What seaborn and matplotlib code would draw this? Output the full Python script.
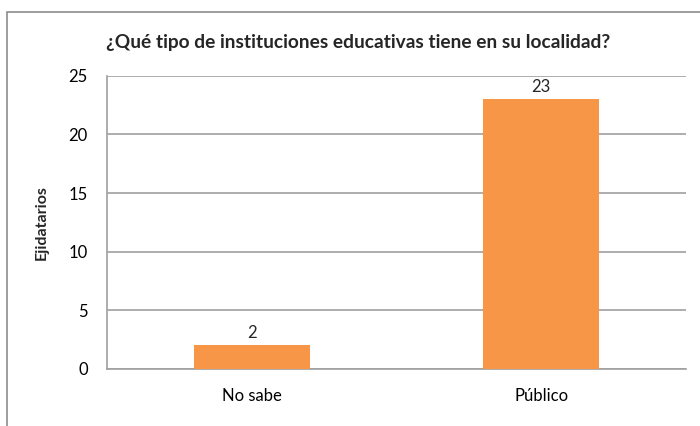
import matplotlib
matplotlib.use("Agg")
import matplotlib.pyplot as plt
import seaborn as sns
import pandas as pd
from matplotlib.patches import Rectangle

### DATA ###
categories = ["No sabe", "Público"]
counts = [2, 23]
yticks = [0, 5, 10, 15, 20, 25]

df = pd.DataFrame({"categoria": categories, "ejidatarios": counts})

### STYLE ###
sns.set_style("white")
plt.rcParams["font.family"] = ["Lato", "DejaVu Sans"]

fig = plt.figure(figsize=(7, 4.26), dpi=100)
ax = fig.add_axes([0.153, 0.134, 0.827, 0.688])

# Outer chart frame (Excel style)
fig.patches.append(Rectangle((0.01, -0.05), 1.0, 1.022, transform=fig.transFigure,
                             fill=False, edgecolor="#8c8c8c", linewidth=1.2))

sns.barplot(data=df, x="categoria", y="ejidatarios", color="#F79646",
            width=0.4, saturation=1, linewidth=0, ax=ax, zorder=3)

ax.set_ylim(0, 25)
ax.set_yticks(yticks)
ax.yaxis.grid(True, color="#a0a0a0", linewidth=1.2, zorder=0)
ax.set_axisbelow(True)

for s in ["top", "right"]:
    ax.spines[s].set_visible(False)
for s in ["left", "bottom"]:
    ax.spines[s].set_color("#a0a0a0")
    ax.spines[s].set_linewidth(1.2)

ax.tick_params(axis="both", length=0, labelsize=12, colors="black")
ax.tick_params(axis="y", pad=14)
ax.tick_params(axis="x", pad=14)

for p, v in zip(ax.patches, counts):
    ax.annotate(str(v), (p.get_x() + p.get_width() / 2, v), xytext=(0, 3),
                textcoords="offset points", ha="center", va="bottom", fontsize=12)

ax.set_xlabel("")
ax.set_ylabel("Ejidatarios", fontsize=11.5, fontweight="bold", labelpad=14)

fig.text(0.511, 0.90, "¿Qué tipo de instituciones educativas tiene en su localidad?",
         ha="center", va="center", fontsize=13.8, fontweight="bold")

fig.savefig("out.png", dpi=100)
